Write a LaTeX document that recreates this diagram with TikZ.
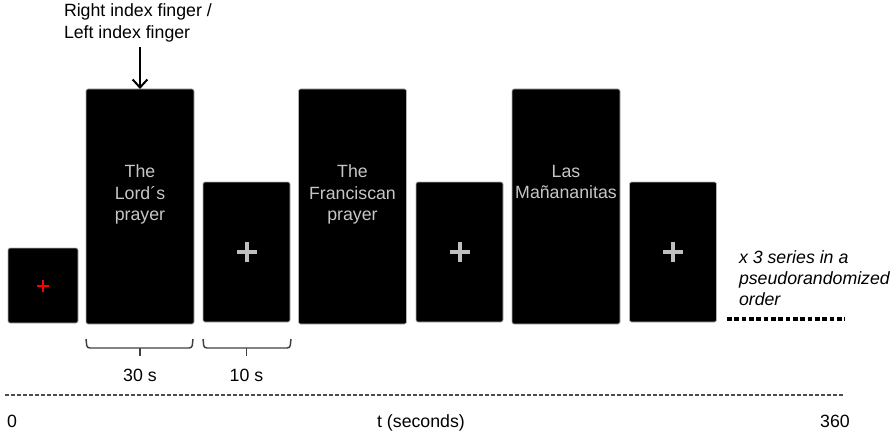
\documentclass[tikz,border=0pt]{standalone}
\usepackage{fontspec}
\setmainfont{Liberation Sans}
\usetikzlibrary{calc,arrows.meta}
\begin{document}
\begin{tikzpicture}[x=0.75pt,y=-0.75pt,
  every node/.style={inner sep=0pt, outer sep=0pt},
  txt/.style={font=\fontsize{13.3}{16.1}\selectfont},
  boxlbl/.style={txt, text=gray!45, align=center, anchor=north},
  slide/.style={draw=gray!60, line width=0.5pt, fill=black, rounded corners=1.5pt},
  tallbox/.style={slide, minimum width=81pt, minimum height=176.25pt},
  crossbox/.style={slide, minimum width=65.25pt, minimum height=105pt},
  fixbox/.style={slide, minimum width=52.5pt, minimum height=56.25pt},
  plusmark/.style={draw=gray!50, line width=3pt},
  redmark/.style={draw=red, line width=1.5pt},
  brace/.style={draw=black!75, line width=1.1pt, rounded corners=2pt},
  ]
\useasboundingbox (0,0) rectangle (896,435);

% slides
\node[fixbox]   (S0) at (43,285.5) {};
\node[tallbox]  (L1) at (140,206.5) {};
\node[crossbox] (C1) at (246.5,252) {};
\node[tallbox]  (L2) at (352.5,206.5) {};
\node[crossbox] (C2) at (459.5,252) {};
\node[tallbox]  (L3) at (566,206.5) {};
\node[crossbox] (C3) at (673,252) {};

% fixation crosses
\draw[redmark] ($(S0.center)+(-6,0)$) -- ($(S0.center)+(6,0)$);
\draw[redmark] ($(S0.center)+(0,-6)$) -- ($(S0.center)+(0,6)$);
\foreach \c in {C1,C2,C3}{
  \draw[plusmark] ($(\c.center)+(-10,0)$) -- ($(\c.center)+(10,0)$);
  \draw[plusmark] ($(\c.center)+(0,-10)$) -- ($(\c.center)+(0,10)$);
}

% slide texts
\node[boxlbl] (t1) at ($(L1.north)+(0,76)$) {The\\Lord´s\\prayer};
\node[boxlbl] (t2) at ($(L2.north)+(0,76)$) {The\\Franciscan\\prayer};
\node[boxlbl] (t3) at ($(L3.north)+(0,76)$) {Las\\Mañananitas};

% finger label and arrow
\node[txt, align=left, anchor=north west] (finger) at (64,4) {Right index finger /\\Left index finger};
\coordinate (atop) at (140,47);
\draw[line width=1.5pt, -{Straight Barb[length=6pt,width=11pt,line width=1.5pt]}] (atop) -- (L1.north);

% series text
\node[txt, font=\fontsize{13.3}{15.8}\selectfont\itshape, align=left, anchor=north west] (series) at (739,251) {x 3 series in a\\pseudorandomized\\order};
\coordinate (d0) at (727,319);
\coordinate (d1) at (845,319);
\draw[line width=2.5pt, dash pattern=on 3.5pt off 2pt] (d0) -- (d1);

% braces
\draw[brace] ($(L1.south west)+(0,15)$) -- ($(L1.south west)+(1,24)$) -- ($(L1.south east)+(-2,24)$) -- ($(L1.south east)+(-1,15)$);
\draw[brace] ($(L1.south)+(0,24)$) -- ($(L1.south)+(0,32)$);
\node[txt, anchor=base] (l30) at ($(L1.south)+(0,57)$) {30 s};
\draw[brace] ($(C1.south west)+(0,17)$) -- ($(C1.south west)+(1,26)$) -- ($(C1.south east)+(0,26)$) -- ($(C1.south east)+(1,17)$);
\draw[brace] ($(C1.south)+(0,26)$) -- ($(C1.south)+(0,34)$);
\node[txt, anchor=base] (l10) at ($(C1.south)+(0,59)$) {10 s};

% timeline
\coordinate (tl0) at (5,395);
\coordinate (tl1) at (845,395);
\draw[black!70, line width=1.5pt, dash pattern=on 3pt off 1.5pt] (tl0) -- (tl1);
\node[txt, anchor=base] (zero) at (12,427) {0};
\node[txt, anchor=base] (tsec) at (421,427) {t (seconds)};
\node[txt, anchor=base] (end) at (835,427) {360};
\end{tikzpicture}
\end{document}
